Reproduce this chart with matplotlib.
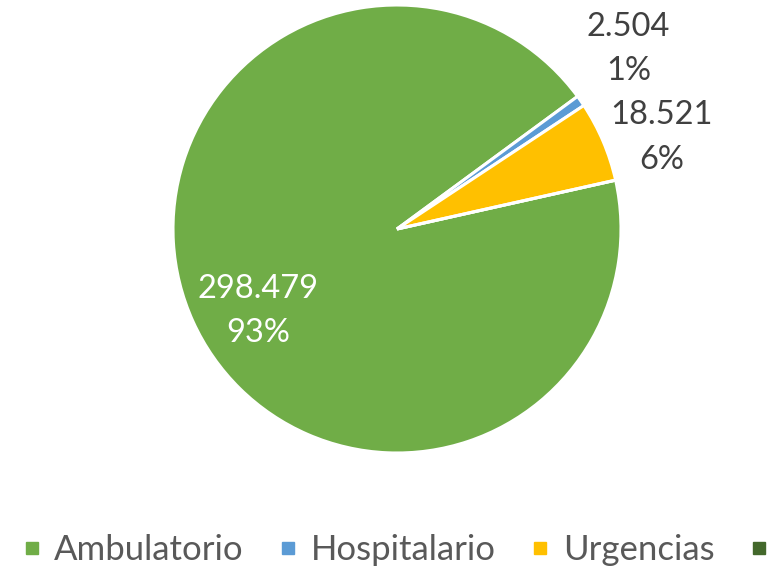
import numpy as np
import matplotlib.pyplot as plt
from matplotlib.lines import Line2D

plt.rcParams['font.family'] = ['Lato', 'DejaVu Sans']

# Data
categories = ['Ambulatorio', 'Hospitalario', 'Urgencias', 'Otros']
values = [298479, 2504, 18521, 0]
colors = ['#70AD47', '#5B9BD5', '#FFC000', '#43682B']

# label placement per slice (radius in pie units, angle shift in degrees)
label_r = [0.72, 1.31, 1.25, 1.2]
label_dang = [6, 3, -4, 0]
label_color = ['white', '#404040', '#404040', '#404040']

W, H = 775, 570
fig = plt.figure(figsize=(W / 100, H / 100), dpi=100)
cx, cy, rad = 397, 229, 224
ax = fig.add_axes([(cx - rad) / W, (H - cy - rad) / H, 2 * rad / W, 2 * rad / H])

wedges, _ = ax.pie(values, colors=colors, startangle=12.6, counterclock=False,
                   wedgeprops=dict(edgecolor='white', linewidth=2.2))
ax.set_xlim(-1, 1)
ax.set_ylim(-1, 1)

total = sum(values)
for w, v, r, da, c in zip(wedges, values, label_r, label_dang, label_color):
    if v == 0:
        continue
    ang = np.deg2rad((w.theta1 + w.theta2) / 2 + da)
    txt = f"{v:,}".replace(",", ".") + "\n" + f"{round(100 * v / total)}%"
    ax.text(r * np.cos(ang), r * np.sin(ang), txt, ha='center', va='center',
            fontsize=23.5, color=c, linespacing=1.6)

handles = [Line2D([], [], marker='s', linestyle='none', markersize=8.5,
                  markerfacecolor=c, markeredgecolor=c) for c in colors]
fig.legend(handles, categories, loc='center left', bbox_to_anchor=(0.023, 1 - 550 / H),
           ncol=4, frameon=False, fontsize=25, handlelength=0.8, handletextpad=0.25,
           columnspacing=0.88, borderaxespad=0, borderpad=0, labelcolor='#595959')

fig.savefig('out.png', dpi=100)
